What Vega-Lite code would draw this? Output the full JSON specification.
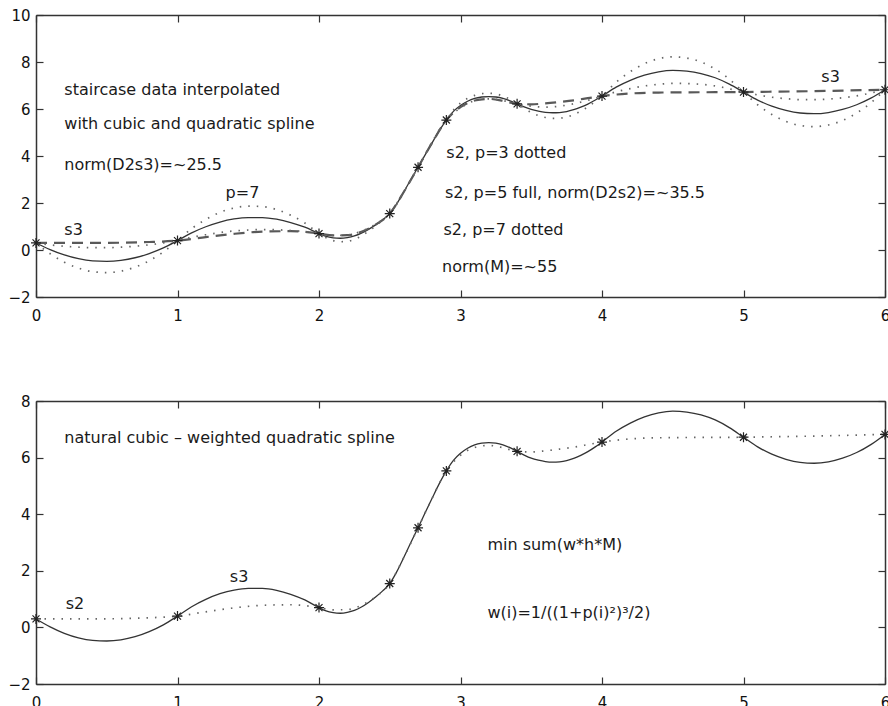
{
  "$schema": "https://vega.github.io/schema/vega-lite/v6.json",
  "background": "white",
  "padding": 0,
  "spacing": 59,
  "datasets": {
    "curves": [
      {"c":"p5","x":0,"y":0.30},{"c":"p5","x":0.1,"y":0.02},{"c":"p5","x":0.2,"y":-0.21},{"c":"p5","x":0.3,"y":-0.37},{"c":"p5","x":0.4,"y":-0.46},{"c":"p5","x":0.5,"y":-0.48},{"c":"p5","x":0.6,"y":-0.44},{"c":"p5","x":0.7,"y":-0.33},{"c":"p5","x":0.8,"y":-0.15},{"c":"p5","x":0.9,"y":0.09},
      {"c":"p5","x":1,"y":0.40},{"c":"p5","x":1.1,"y":0.73},{"c":"p5","x":1.2,"y":0.99},{"c":"p5","x":1.3,"y":1.19},{"c":"p5","x":1.4,"y":1.32},{"c":"p5","x":1.5,"y":1.38},{"c":"p5","x":1.6,"y":1.38},{"c":"p5","x":1.7,"y":1.31},{"c":"p5","x":1.8,"y":1.17},{"c":"p5","x":1.9,"y":0.97},
      {"c":"p5","x":2,"y":0.70},{"c":"p5","x":2.05,"y":0.58},{"c":"p5","x":2.1,"y":0.52},{"c":"p5","x":2.15,"y":0.50},{"c":"p5","x":2.2,"y":0.53},{"c":"p5","x":2.25,"y":0.60},{"c":"p5","x":2.3,"y":0.72},{"c":"p5","x":2.35,"y":0.88},{"c":"p5","x":2.4,"y":1.07},{"c":"p5","x":2.45,"y":1.29},
      {"c":"p5","x":2.5,"y":1.55},{"c":"p5","x":2.55,"y":1.97},{"c":"p5","x":2.6,"y":2.48},{"c":"p5","x":2.65,"y":3.01},{"c":"p5","x":2.7,"y":3.52},{"c":"p5","x":2.75,"y":4.05},{"c":"p5","x":2.8,"y":4.57},{"c":"p5","x":2.85,"y":5.08},{"c":"p5","x":2.9,"y":5.53},{"c":"p5","x":2.95,"y":5.90},
      {"c":"p5","x":3,"y":6.15},{"c":"p5","x":3.05,"y":6.33},{"c":"p5","x":3.1,"y":6.45},{"c":"p5","x":3.15,"y":6.51},{"c":"p5","x":3.2,"y":6.53},{"c":"p5","x":3.25,"y":6.51},{"c":"p5","x":3.3,"y":6.45},{"c":"p5","x":3.35,"y":6.35},{"c":"p5","x":3.4,"y":6.22},{"c":"p5","x":3.45,"y":6.09},
      {"c":"p5","x":3.5,"y":5.98},{"c":"p5","x":3.55,"y":5.91},{"c":"p5","x":3.6,"y":5.86},{"c":"p5","x":3.65,"y":5.84},{"c":"p5","x":3.7,"y":5.85},{"c":"p5","x":3.75,"y":5.89},{"c":"p5","x":3.8,"y":5.97},{"c":"p5","x":3.85,"y":6.08},{"c":"p5","x":3.9,"y":6.21},{"c":"p5","x":3.95,"y":6.37},
      {"c":"p5","x":4,"y":6.55},{"c":"p5","x":4.1,"y":6.93},{"c":"p5","x":4.2,"y":7.22},{"c":"p5","x":4.3,"y":7.44},{"c":"p5","x":4.4,"y":7.58},{"c":"p5","x":4.5,"y":7.64},{"c":"p5","x":4.6,"y":7.61},{"c":"p5","x":4.7,"y":7.51},{"c":"p5","x":4.8,"y":7.33},{"c":"p5","x":4.9,"y":7.06},
      {"c":"p5","x":5,"y":6.72},{"c":"p5","x":5.1,"y":6.38},{"c":"p5","x":5.2,"y":6.12},{"c":"p5","x":5.3,"y":5.94},{"c":"p5","x":5.4,"y":5.83},{"c":"p5","x":5.5,"y":5.80},{"c":"p5","x":5.6,"y":5.85},{"c":"p5","x":5.7,"y":5.98},{"c":"p5","x":5.8,"y":6.18},{"c":"p5","x":5.9,"y":6.46},{"c":"p5","x":6,"y":6.82},

      {"c":"p7","x":0,"y":0.30},{"c":"p7","x":0.1,"y":-0.16},{"c":"p7","x":0.2,"y":-0.52},{"c":"p7","x":0.3,"y":-0.77},{"c":"p7","x":0.4,"y":-0.92},{"c":"p7","x":0.5,"y":-0.96},{"c":"p7","x":0.6,"y":-0.90},{"c":"p7","x":0.7,"y":-0.73},{"c":"p7","x":0.8,"y":-0.46},{"c":"p7","x":0.9,"y":-0.08},
      {"c":"p7","x":1,"y":0.40},{"c":"p7","x":1.1,"y":0.91},{"c":"p7","x":1.2,"y":1.30},{"c":"p7","x":1.3,"y":1.60},{"c":"p7","x":1.4,"y":1.79},{"c":"p7","x":1.5,"y":1.87},{"c":"p7","x":1.6,"y":1.85},{"c":"p7","x":1.7,"y":1.72},{"c":"p7","x":1.8,"y":1.48},{"c":"p7","x":1.9,"y":1.15},
      {"c":"p7","x":2,"y":0.70},{"c":"p7","x":2.05,"y":0.52},{"c":"p7","x":2.1,"y":0.40},{"c":"p7","x":2.15,"y":0.35},{"c":"p7","x":2.2,"y":0.37},{"c":"p7","x":2.25,"y":0.45},{"c":"p7","x":2.3,"y":0.60},{"c":"p7","x":2.35,"y":0.80},{"c":"p7","x":2.4,"y":1.02},{"c":"p7","x":2.45,"y":1.27},
      {"c":"p7","x":2.5,"y":1.55},{"c":"p7","x":2.55,"y":1.95},{"c":"p7","x":2.6,"y":2.45},{"c":"p7","x":2.65,"y":3.00},{"c":"p7","x":2.7,"y":3.52},{"c":"p7","x":2.75,"y":4.07},{"c":"p7","x":2.8,"y":4.60},{"c":"p7","x":2.85,"y":5.12},{"c":"p7","x":2.9,"y":5.53},{"c":"p7","x":2.95,"y":5.95},
      {"c":"p7","x":3,"y":6.25},{"c":"p7","x":3.05,"y":6.45},{"c":"p7","x":3.1,"y":6.58},{"c":"p7","x":3.15,"y":6.65},{"c":"p7","x":3.2,"y":6.67},{"c":"p7","x":3.25,"y":6.64},{"c":"p7","x":3.3,"y":6.55},{"c":"p7","x":3.35,"y":6.41},{"c":"p7","x":3.4,"y":6.22},{"c":"p7","x":3.45,"y":6.03},
      {"c":"p7","x":3.5,"y":5.85},{"c":"p7","x":3.55,"y":5.72},{"c":"p7","x":3.6,"y":5.64},{"c":"p7","x":3.65,"y":5.60},{"c":"p7","x":3.7,"y":5.61},{"c":"p7","x":3.75,"y":5.66},{"c":"p7","x":3.8,"y":5.76},{"c":"p7","x":3.85,"y":5.91},{"c":"p7","x":3.9,"y":6.09},{"c":"p7","x":3.95,"y":6.31},
      {"c":"p7","x":4,"y":6.55},{"c":"p7","x":4.1,"y":7.14},{"c":"p7","x":4.2,"y":7.59},{"c":"p7","x":4.3,"y":7.93},{"c":"p7","x":4.4,"y":8.14},{"c":"p7","x":4.5,"y":8.22},{"c":"p7","x":4.6,"y":8.17},{"c":"p7","x":4.7,"y":8.00},{"c":"p7","x":4.8,"y":7.70},{"c":"p7","x":4.9,"y":7.27},
      {"c":"p7","x":5,"y":6.72},{"c":"p7","x":5.1,"y":6.18},{"c":"p7","x":5.2,"y":5.77},{"c":"p7","x":5.3,"y":5.47},{"c":"p7","x":5.4,"y":5.30},{"c":"p7","x":5.5,"y":5.25},{"c":"p7","x":5.6,"y":5.32},{"c":"p7","x":5.7,"y":5.51},{"c":"p7","x":5.8,"y":5.83},{"c":"p7","x":5.9,"y":6.26},{"c":"p7","x":6,"y":6.82},

      {"c":"p3","x":0,"y":0.30},{"c":"p3","x":0.1,"y":0.22},{"c":"p3","x":0.2,"y":0.16},{"c":"p3","x":0.3,"y":0.12},{"c":"p3","x":0.4,"y":0.10},{"c":"p3","x":0.5,"y":0.10},{"c":"p3","x":0.6,"y":0.12},{"c":"p3","x":0.7,"y":0.16},{"c":"p3","x":0.8,"y":0.22},{"c":"p3","x":0.9,"y":0.30},
      {"c":"p3","x":1,"y":0.40},{"c":"p3","x":1.1,"y":0.54},{"c":"p3","x":1.2,"y":0.65},{"c":"p3","x":1.3,"y":0.74},{"c":"p3","x":1.4,"y":0.81},{"c":"p3","x":1.5,"y":0.85},{"c":"p3","x":1.6,"y":0.87},{"c":"p3","x":1.7,"y":0.86},{"c":"p3","x":1.8,"y":0.83},{"c":"p3","x":1.9,"y":0.78},
      {"c":"p3","x":2,"y":0.70},{"c":"p3","x":2.1,"y":0.62},{"c":"p3","x":2.2,"y":0.64},{"c":"p3","x":2.3,"y":0.80},{"c":"p3","x":2.4,"y":1.10},{"c":"p3","x":2.5,"y":1.55},{"c":"p3","x":2.6,"y":2.48},{"c":"p3","x":2.7,"y":3.52},{"c":"p3","x":2.8,"y":4.57},{"c":"p3","x":2.9,"y":5.53},
      {"c":"p3","x":3,"y":6.05},{"c":"p3","x":3.1,"y":6.35},{"c":"p3","x":3.2,"y":6.43},{"c":"p3","x":3.3,"y":6.36},{"c":"p3","x":3.4,"y":6.22},{"c":"p3","x":3.5,"y":6.12},{"c":"p3","x":3.6,"y":6.08},{"c":"p3","x":3.7,"y":6.12},{"c":"p3","x":3.8,"y":6.22},{"c":"p3","x":3.9,"y":6.37},
      {"c":"p3","x":4,"y":6.55},{"c":"p3","x":4.1,"y":6.73},{"c":"p3","x":4.2,"y":6.87},{"c":"p3","x":4.3,"y":6.98},{"c":"p3","x":4.4,"y":7.05},{"c":"p3","x":4.5,"y":7.09},{"c":"p3","x":4.6,"y":7.08},{"c":"p3","x":4.7,"y":7.05},{"c":"p3","x":4.8,"y":6.98},{"c":"p3","x":4.9,"y":6.86},
      {"c":"p3","x":5,"y":6.72},{"c":"p3","x":5.1,"y":6.60},{"c":"p3","x":5.2,"y":6.50},{"c":"p3","x":5.3,"y":6.44},{"c":"p3","x":5.4,"y":6.40},{"c":"p3","x":5.5,"y":6.40},{"c":"p3","x":5.6,"y":6.42},{"c":"p3","x":5.7,"y":6.48},{"c":"p3","x":5.8,"y":6.56},{"c":"p3","x":5.9,"y":6.68},{"c":"p3","x":6,"y":6.82},

      {"c":"s3","x":0,"y":0.30},{"c":"s3","x":0.2,"y":0.30},{"c":"s3","x":0.4,"y":0.30},{"c":"s3","x":0.6,"y":0.31},{"c":"s3","x":0.8,"y":0.34},{"c":"s3","x":1,"y":0.40},{"c":"s3","x":1.2,"y":0.55},{"c":"s3","x":1.4,"y":0.69},{"c":"s3","x":1.6,"y":0.78},{"c":"s3","x":1.8,"y":0.80},
      {"c":"s3","x":1.9,"y":0.77},{"c":"s3","x":2,"y":0.70},{"c":"s3","x":2.1,"y":0.62},{"c":"s3","x":2.2,"y":0.63},{"c":"s3","x":2.3,"y":0.78},{"c":"s3","x":2.4,"y":1.08},{"c":"s3","x":2.5,"y":1.55},{"c":"s3","x":2.6,"y":2.48},{"c":"s3","x":2.7,"y":3.52},{"c":"s3","x":2.8,"y":4.57},
      {"c":"s3","x":2.9,"y":5.53},{"c":"s3","x":3,"y":6.08},{"c":"s3","x":3.1,"y":6.36},{"c":"s3","x":3.2,"y":6.43},{"c":"s3","x":3.3,"y":6.35},{"c":"s3","x":3.4,"y":6.22},{"c":"s3","x":3.5,"y":6.20},{"c":"s3","x":3.6,"y":6.24},{"c":"s3","x":3.7,"y":6.30},{"c":"s3","x":3.8,"y":6.37},
      {"c":"s3","x":3.9,"y":6.46},{"c":"s3","x":4,"y":6.55},{"c":"s3","x":4.2,"y":6.66},{"c":"s3","x":4.4,"y":6.70},{"c":"s3","x":4.6,"y":6.71},{"c":"s3","x":4.8,"y":6.715},{"c":"s3","x":5,"y":6.72},{"c":"s3","x":5.25,"y":6.74},{"c":"s3","x":5.5,"y":6.76},{"c":"s3","x":5.75,"y":6.79},{"c":"s3","x":6,"y":6.82}
    ],
    "knots": [
      {"x":0,"y":0.30},{"x":1,"y":0.40},{"x":2,"y":0.70},{"x":2.5,"y":1.55},{"x":2.7,"y":3.52},
      {"x":2.9,"y":5.53},{"x":3.4,"y":6.22},{"x":4,"y":6.55},{"x":5,"y":6.72},{"x":6,"y":6.82}
    ],
    "notes": [
      {"panel":1,"x":0.2,"y":6.81,"t":"staircase data interpolated"},
      {"panel":1,"x":0.2,"y":5.36,"t":"with cubic and quadratic spline"},
      {"panel":1,"x":0.2,"y":3.62,"t":"norm(D2s3)=~25.5"},
      {"panel":1,"x":1.34,"y":2.43,"t":"p=7"},
      {"panel":1,"x":0.2,"y":0.85,"t":"s3"},
      {"panel":1,"x":2.9,"y":4.14,"t":"s2, p=3 dotted"},
      {"panel":1,"x":2.89,"y":2.41,"t":"s2, p=5 full, norm(D2s2)=~35.5"},
      {"panel":1,"x":2.88,"y":0.85,"t":"s2, p=7 dotted"},
      {"panel":1,"x":2.87,"y":-0.71,"t":"norm(M)=~55"},
      {"panel":1,"x":5.55,"y":7.35,"t":"s3"},
      {"panel":2,"x":0.2,"y":6.68,"t":"natural cubic – weighted quadratic spline"},
      {"panel":2,"x":1.37,"y":1.79,"t":"s3"},
      {"panel":2,"x":0.21,"y":0.83,"t":"s2"},
      {"panel":2,"x":3.19,"y":2.91,"t":"min sum(w*h*M)"},
      {"panel":2,"x":3.19,"y":0.50,"t":"w(i)=1/((1+p(i)²)³/2)"}
    ]
  },
  "config": {
    "view": {"stroke": null},
    "axis": {
      "grid": false,
      "domainColor": "#333333",
      "domainWidth": 1.5,
      "tickColor": "#333333",
      "tickWidth": 1.2,
      "tickSize": -7,
      "labelFont": "DejaVu Sans",
      "labelFontSize": 15,
      "labelColor": "#111111",
      "labelFlush": false,
      "labelOverlap": false
    },
    "text": {"font": "DejaVu Sans", "fontSize": 16, "color": "#1a1a1a", "align": "left", "baseline": "middle"}
  },
  "vconcat": [
    {
      "width": 849,
      "height": 282,
      "resolve": {"axis": {"x": "independent", "y": "independent"}},
      "layer": [
        {
          "data": {"name": "curves"},
          "transform": [{"filter": "datum.c === 'p5'"}],
          "mark": {"type": "line", "interpolate": "monotone", "stroke": "#333333", "strokeWidth": 1.3},
          "encoding": {
            "x": {"field": "x", "type": "quantitative", "scale": {"domain": [0, 6], "nice": false, "zero": false},
                  "axis": {"orient": "bottom", "values": [0, 1, 2, 3, 4, 5, 6], "title": null, "labelPadding": 18, "minExtent": 30}},
            "y": {"field": "y", "type": "quantitative", "scale": {"domain": [-2, 10], "nice": false, "zero": false},
                  "axis": {"orient": "left", "values": [-2, 0, 2, 4, 6, 8, 10], "title": null, "labelPadding": 13, "minExtent": 36}}
          }
        },
        {
          "data": {"name": "curves"},
          "transform": [{"filter": "datum.c === 's3'"}],
          "mark": {"type": "line", "interpolate": "monotone", "stroke": "#595959", "strokeWidth": 2.2, "strokeDash": [11, 7]},
          "encoding": {
            "x": {"field": "x", "type": "quantitative", "axis": null},
            "y": {"field": "y", "type": "quantitative", "axis": null}
          }
        },
        {
          "data": {"name": "curves"},
          "transform": [{"filter": "datum.c === 'p3' || datum.c === 'p7'"}],
          "mark": {"type": "line", "interpolate": "monotone", "stroke": "#666666", "strokeWidth": 1.7, "strokeDash": [1.5, 7]},
          "encoding": {
            "x": {"field": "x", "type": "quantitative", "axis": null},
            "y": {"field": "y", "type": "quantitative", "axis": null},
            "detail": {"field": "c"}
          }
        },
        {
          "data": {"name": "knots"},
          "mark": {"type": "point", "shape": "M-1,0L1,0M0,-1L0,1M-0.7,-0.7L0.7,0.7M-0.7,0.7L0.7,-0.7", "filled": false, "stroke": "#222222", "strokeWidth": 1.2, "size": 100, "opacity": 1},
          "encoding": {
            "x": {"field": "x", "type": "quantitative",
                  "axis": {"orient": "top", "values": [0, 1, 2, 3, 4, 5, 6], "labels": false, "title": null, "minExtent": 15}},
            "y": {"field": "y", "type": "quantitative",
                  "axis": {"orient": "right", "values": [-2, 0, 2, 4, 6, 8, 10], "labels": false, "title": null}}
          }
        },
        {
          "data": {"name": "notes"},
          "transform": [{"filter": "datum.panel === 1"}],
          "mark": {"type": "text"},
          "encoding": {
            "x": {"field": "x", "type": "quantitative", "axis": null},
            "y": {"field": "y", "type": "quantitative", "axis": null},
            "text": {"field": "t"}
          }
        }
      ]
    },
    {
      "width": 849,
      "height": 283,
      "resolve": {"axis": {"x": "independent", "y": "independent"}},
      "layer": [
        {
          "data": {"name": "curves"},
          "transform": [{"filter": "datum.c === 'p5'"}],
          "mark": {"type": "line", "interpolate": "monotone", "stroke": "#333333", "strokeWidth": 1.3},
          "encoding": {
            "x": {"field": "x", "type": "quantitative", "scale": {"domain": [0, 6], "nice": false, "zero": false},
                  "axis": {"orient": "bottom", "values": [0, 1, 2, 3, 4, 5, 6], "title": null, "labelPadding": 18, "minExtent": 30}},
            "y": {"field": "y", "type": "quantitative", "scale": {"domain": [-2, 8], "nice": false, "zero": false},
                  "axis": {"orient": "left", "values": [-2, 0, 2, 4, 6, 8], "title": null, "labelPadding": 13, "minExtent": 36}}
          }
        },
        {
          "data": {"name": "curves"},
          "transform": [{"filter": "datum.c === 's3'"}],
          "mark": {"type": "line", "interpolate": "monotone", "stroke": "#666666", "strokeWidth": 1.7, "strokeDash": [1.5, 7]},
          "encoding": {
            "x": {"field": "x", "type": "quantitative", "axis": null},
            "y": {"field": "y", "type": "quantitative", "axis": null}
          }
        },
        {
          "data": {"name": "knots"},
          "mark": {"type": "point", "shape": "M-1,0L1,0M0,-1L0,1M-0.7,-0.7L0.7,0.7M-0.7,0.7L0.7,-0.7", "filled": false, "stroke": "#222222", "strokeWidth": 1.2, "size": 100, "opacity": 1},
          "encoding": {
            "x": {"field": "x", "type": "quantitative",
                  "axis": {"orient": "top", "values": [0, 1, 2, 3, 4, 5, 6], "labels": false, "title": null, "minExtent": 15}},
            "y": {"field": "y", "type": "quantitative",
                  "axis": {"orient": "right", "values": [-2, 0, 2, 4, 6, 8], "labels": false, "title": null}}
          }
        },
        {
          "data": {"name": "notes"},
          "transform": [{"filter": "datum.panel === 2"}],
          "mark": {"type": "text"},
          "encoding": {
            "x": {"field": "x", "type": "quantitative", "axis": null},
            "y": {"field": "y", "type": "quantitative", "axis": null},
            "text": {"field": "t"}
          }
        }
      ]
    }
  ]
}
